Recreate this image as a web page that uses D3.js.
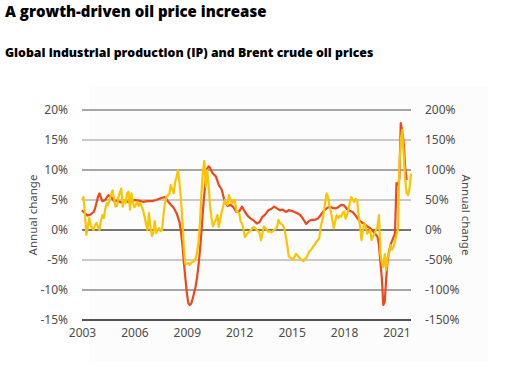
<!DOCTYPE html>
<html>
<head>
<meta charset="utf-8">
<script src="https://cdn.jsdelivr.net/npm/d3@7"></script>
<style>
    body{ margin:0; background:#fff; }
    svg{ display:block; font-family:"Noto Sans", "Open Sans", sans-serif; }
</style>
</head>
<body>
<div id="chart"></div>
<script>
// chart texts
const titleText = "A growth-driven oil price increase";
const subtitleText = "Global industrial production (IP) and Brent crude oil prices";
const axisTitle = "Annual change";

// tick labels
const leftTicks = [-15, -10, -5, 0, 5, 10, 15, 20];
const rightTicks = [-150, -100, -50, 0, 50, 100, 150, 200];
const yearTicks = [2003, 2006, 2009, 2012, 2015, 2018, 2021];

// global IP, annual change % (left axis)
const ipSeries = [
    ["2003-01", 3.3], ["2003-03", 2.8], ["2003-05", 2.4], ["2003-07", 2.6], ["2003-09", 3.0],
    ["2003-10", 3.6], ["2003-12", 5.5], ["2004-01", 6.1], ["2004-03", 4.8], ["2004-05", 5.0],
    ["2004-07", 5.8], ["2004-09", 5.5], ["2004-11", 4.8], ["2005-01", 4.9], ["2005-04", 4.6],
    ["2005-07", 4.8], ["2005-10", 4.6], ["2006-01", 5.0], ["2006-04", 4.9], ["2006-07", 4.7],
    ["2006-10", 4.8], ["2007-01", 4.8], ["2007-04", 5.0], ["2007-07", 5.3], ["2007-10", 5.5],
    ["2007-12", 4.8], ["2008-02", 4.2], ["2008-04", 3.7], ["2008-06", 2.8], ["2008-08", 1.3],
    ["2008-09", -0.3], ["2008-10", -2.5], ["2008-11", -5.5], ["2008-12", -8.0], ["2009-01", -10.5],
    ["2009-02", -12.2], ["2009-03", -12.5], ["2009-04", -12.3], ["2009-05", -11.5], ["2009-06", -10.5],
    ["2009-07", -9.5], ["2009-08", -8.0], ["2009-09", -6.0], ["2009-10", -3.5], ["2009-11", -0.5],
    ["2009-12", 3.0], ["2010-01", 6.0], ["2010-02", 8.5], ["2010-03", 10.2], ["2010-04", 10.6],
    ["2010-05", 10.4], ["2010-06", 9.8], ["2010-07", 9.4], ["2010-09", 8.9], ["2010-11", 7.5],
    ["2011-01", 6.7], ["2011-03", 4.8], ["2011-05", 4.0], ["2011-07", 4.2], ["2011-09", 3.8],
    ["2011-11", 3.0], ["2012-01", 3.1], ["2012-03", 3.9], ["2012-05", 3.0], ["2012-07", 2.3],
    ["2012-09", 1.9], ["2012-11", 1.6], ["2013-01", 1.1], ["2013-03", 1.3], ["2013-05", 2.2],
    ["2013-07", 2.6], ["2013-09", 3.3], ["2013-11", 3.5], ["2014-01", 3.9], ["2014-03", 3.6],
    ["2014-05", 3.3], ["2014-07", 3.4], ["2014-09", 3.0], ["2014-11", 3.3], ["2015-01", 3.2],
    ["2015-03", 3.0], ["2015-05", 2.8], ["2015-07", 2.5], ["2015-09", 1.8], ["2015-11", 1.0],
    ["2016-01", 1.5], ["2016-03", 1.7], ["2016-05", 1.7], ["2016-07", 1.9], ["2016-09", 2.5],
    ["2016-11", 3.2], ["2017-01", 3.6], ["2017-03", 3.9], ["2017-05", 3.7], ["2017-07", 3.6],
    ["2017-09", 3.8], ["2017-11", 4.2], ["2018-01", 4.1], ["2018-03", 3.5], ["2018-05", 3.2],
    ["2018-07", 3.0], ["2018-09", 2.4], ["2018-11", 1.7], ["2019-01", 1.3], ["2019-03", 1.0],
    ["2019-05", 0.6], ["2019-07", 0.3], ["2019-09", -0.2], ["2019-12", -1.1], ["2020-01", -2.5],
    ["2020-02", -5.5], ["2020-03", -8.0], ["2020-04", -12.5], ["2020-05", -12.0], ["2020-06", -8.0],
    ["2020-07", -5.0], ["2020-08", -3.5], ["2020-09", -2.4], ["2020-10", -1.8], ["2020-11", -1.2],
    ["2020-12", -0.6], ["2021-01", 7.8], ["2021-02", 7.5], ["2021-03", 8.5], ["2021-04", 17.8],
    ["2021-05", 16.5], ["2021-06", 14.5], ["2021-07", 10.5], ["2021-08", 8.3]
];

// Brent crude, annual change % (right axis)
const brentSeries = [
    ["2003-01", 50], ["2003-02", 55], ["2003-03", 30], ["2003-04", -8], ["2003-05", 5], ["2003-06", 20],
    ["2003-07", 8], ["2003-08", 3], ["2003-09", 0], ["2003-10", 8], ["2003-11", 12], ["2003-12", 5],
    ["2004-01", 0], ["2004-02", 15], ["2004-03", 25], ["2004-04", 20], ["2004-05", 35], ["2004-06", 45],
    ["2004-07", 42], ["2004-08", 50], ["2004-09", 60], ["2004-10", 66], ["2004-11", 52], ["2004-12", 39],
    ["2005-01", 40], ["2005-02", 55], ["2005-03", 62], ["2005-04", 69], ["2005-05", 39], ["2005-06", 50],
    ["2005-07", 45], ["2005-08", 61], ["2005-09", 64], ["2005-10", 34], ["2005-11", 61], ["2005-12", 45],
    ["2006-01", 38], ["2006-02", 42], ["2006-03", 47], ["2006-04", 40], ["2006-05", 45], ["2006-06", 39],
    ["2006-07", 33], ["2006-08", 22], ["2006-09", 10], ["2006-10", 0], ["2006-11", 28], ["2006-12", 5],
    ["2007-01", -10], ["2007-02", -5], ["2007-03", 15], ["2007-04", -5], ["2007-05", 0], ["2007-06", 3],
    ["2007-07", -2], ["2007-08", 0], ["2007-09", 25], ["2007-10", 45], ["2007-11", 55], ["2007-12", 58],
    ["2008-01", 60], ["2008-02", 75], ["2008-03", 68], ["2008-04", 61], ["2008-05", 80], ["2008-06", 89],
    ["2008-07", 100], ["2008-08", 78], ["2008-09", 50], ["2008-10", 15], ["2008-11", -33], ["2008-12", -57],
    ["2009-01", -56], ["2009-02", -55], ["2009-03", -58], ["2009-04", -55], ["2009-05", -53], ["2009-06", -52],
    ["2009-07", -48], ["2009-08", -38], ["2009-09", -20], ["2009-10", 10], ["2009-11", 60], ["2009-12", 95],
    ["2010-01", 115], ["2010-02", 72], ["2010-03", 100], ["2010-04", 75], ["2010-05", 40], ["2010-06", 20],
    ["2010-07", 6], ["2010-08", 12], ["2010-09", 17], ["2010-10", 25], ["2010-11", 5], ["2010-12", 20],
    ["2011-01", 30], ["2011-02", 40], ["2011-03", 50], ["2011-04", 45], ["2011-05", 42], ["2011-06", 58],
    ["2011-07", 50], ["2011-08", 44], ["2011-09", 48], ["2011-10", 50], ["2011-11", 31], ["2011-12", 30],
    ["2012-01", 28], ["2012-02", 14], ["2012-03", 11], ["2012-04", 0], ["2012-05", -12], ["2012-06", -8],
    ["2012-07", -5], ["2012-08", -3], ["2012-09", 0], ["2012-10", 3], ["2012-11", 5], ["2012-12", 3],
    ["2013-01", 0], ["2013-02", -2], ["2013-03", -5], ["2013-04", -17], ["2013-05", -5], ["2013-06", 6],
    ["2013-07", 3], ["2013-08", 0], ["2013-09", -3], ["2013-10", -2], ["2013-11", -4], ["2013-12", -2],
    ["2014-01", 0], ["2014-02", 2], ["2014-03", 4], ["2014-04", 17], ["2014-05", 12], ["2014-06", 10],
    ["2014-07", 8], ["2014-08", 2], ["2014-09", -11], ["2014-10", -25], ["2014-11", -44], ["2014-12", -46],
    ["2015-01", -47], ["2015-02", -50], ["2015-03", -45], ["2015-04", -40], ["2015-05", -42], ["2015-06", -45],
    ["2015-07", -48], ["2015-08", -50], ["2015-09", -52], ["2015-10", -48], ["2015-11", -47], ["2015-12", -42],
    ["2016-01", -36], ["2016-02", -34], ["2016-03", -31], ["2016-04", -27], ["2016-05", -24], ["2016-06", -20],
    ["2016-07", -17], ["2016-08", -14], ["2016-09", 6], ["2016-10", 15], ["2016-11", 28], ["2016-12", 45],
    ["2017-01", 61], ["2017-02", 55], ["2017-03", 40], ["2017-04", 31], ["2017-05", 17], ["2017-06", 3],
    ["2017-07", 15], ["2017-08", 25], ["2017-09", 20], ["2017-10", 24], ["2017-11", 22], ["2017-12", 28],
    ["2018-01", 31], ["2018-02", 19], ["2018-03", 25], ["2018-04", 33], ["2018-05", 45], ["2018-06", 55],
    ["2018-07", 50], ["2018-08", 47], ["2018-09", 52], ["2018-10", 50], ["2018-11", 25], ["2018-12", 6],
    ["2019-01", -17], ["2019-02", 0], ["2019-03", 11], ["2019-04", 5], ["2019-05", -6], ["2019-06", -3],
    ["2019-07", 0], ["2019-08", -17], ["2019-09", -10], ["2019-10", -6], ["2019-11", 0], ["2019-12", 6],
    ["2020-01", 25], ["2020-02", -39], ["2020-03", -55], ["2020-04", -62], ["2020-05", -40], ["2020-06", -67],
    ["2020-07", -45], ["2020-08", -38], ["2020-09", -25], ["2020-10", -33], ["2020-11", -28], ["2020-12", -19],
    ["2021-01", -8], ["2021-02", 0], ["2021-03", 100], ["2021-04", 150], ["2021-05", 167], ["2021-06", 125],
    ["2021-07", 85], ["2021-08", 62], ["2021-09", 58], ["2021-10", 70], ["2021-11", 94]
];

const width = 512, height = 369;
const margin = {top: 110, right: 101, bottom: 49, left: 82}; // plot box inside the svg
const parseMonth = d3.timeParse("%Y-%m");

const svg = d3.select("#chart").append("svg")
    .attr("width", width)
    .attr("height", height);

// very faint panel behind the plot
svg.append("rect")
    .attr("x", 89).attr("y", 86)
    .attr("width", 399).attr("height", 276)
    .attr("fill", "#fcfcfc");

// titles
svg.append("text")
    .attr("x", 5).attr("y", 17)
    .style("font-family", "'Open Sans', sans-serif")
    .style("font-weight", 800)
    .style("font-size", "15px")
    .attr("fill", "#000")
    .text(titleText);

svg.append("text")
    .attr("x", 5).attr("y", 57)
    .style("font-family", "'Open Sans', sans-serif")
    .style("font-weight", 800)
    .style("font-size", "12.3px")
    .attr("fill", "#000")
    .text(subtitleText);

// scales
const scaleX = d3.scaleTime()
    .domain([parseMonth("2003-01"), parseMonth("2021-11")])
    .range([margin.left, width - margin.right]);
const scaleY = d3.scaleLinear()
    .domain([d3.min(leftTicks), d3.max(leftTicks)])
    .range([height - margin.bottom, margin.top]);
const scaleY2 = d3.scaleLinear()
    .domain([d3.min(rightTicks), d3.max(rightTicks)])
    .range(scaleY.range());

// gridlines, darker every 10%
const gridColor = v => v === 0 ? "#4a4a4a" : (v % 10 === 0 ? "#8a8a8a" : "#b9b9b9");
svg.append("g")
    .selectAll("line.grid")
    .data(leftTicks.filter(v => v !== d3.min(leftTicks)))
    .join("line")
    .classed("grid", true)
    .attr("x1", margin.left).attr("x2", width - margin.right)
    .attr("y1", d => scaleY(d)).attr("y2", d => scaleY(d))
    .attr("stroke", gridColor)
    .attr("stroke-width", 1.5);

// bottom axis line
svg.append("line")
    .attr("x1", margin.left).attr("x2", width - margin.right)
    .attr("y1", scaleY(d3.min(leftTicks))).attr("y2", scaleY(d3.min(leftTicks)))
    .attr("stroke", "#1a1a1a")
    .attr("stroke-width", 1.5);

// y axes
const axisLeft = svg.append("g")
    .attr("transform", `translate(${margin.left - 11},0)`)
    .call(d3.axisLeft(scaleY).tickValues(leftTicks).tickSize(0).tickFormat(d => d + "%"));
const axisRight = svg.append("g")
    .attr("transform", `translate(${width - margin.right + 11},0)`)
    .call(d3.axisRight(scaleY2).tickValues(rightTicks).tickSize(0).tickFormat(d => d + "%"));

// x axis
const axisBottom = svg.append("g")
    .attr("transform", `translate(0,${scaleY(d3.min(leftTicks)) + 5})`)
    .call(d3.axisBottom(scaleX)
        .tickValues(yearTicks.map(y => new Date(y, 0, 1)))
        .tickSize(0)
        .tickFormat(d3.timeFormat("%Y")));

[axisLeft, axisRight, axisBottom].forEach(ax => {
    ax.select(".domain").remove();
    ax.selectAll("text")
        .style("font-family", "'Noto Sans', sans-serif")
        .style("font-size", "12px")
        .attr("fill", "#4d4d4d");
});

// axis titles
svg.append("text")
    .attr("transform", `translate(37,${scaleY(2.5)})rotate(-90)`)
    .style("text-anchor", "middle")
    .style("font-size", "11.5px")
    .attr("fill", "#4d4d4d")
    .text(axisTitle);
svg.append("text")
    .attr("transform", `translate(462,${scaleY(2.5)})rotate(90)`)
    .style("text-anchor", "middle")
    .style("font-size", "11.5px")
    .attr("fill", "#4d4d4d")
    .text(axisTitle);

// lines
const ipLine = d3.line()
    .x(d => scaleX(parseMonth(d[0])))
    .y(d => scaleY(d[1]));
const brentLine = d3.line()
    .x(d => scaleX(parseMonth(d[0])))
    .y(d => scaleY2(d[1]));

svg.append("path")
    .datum(ipSeries)
    .attr("d", ipLine)
    .attr("fill", "none")
    .attr("stroke", "#f0461a")
    .attr("stroke-width", 2.2)
    .attr("stroke-linejoin", "round");

svg.append("path")
    .datum(brentSeries)
    .attr("d", brentLine)
    .attr("fill", "none")
    .attr("stroke", "#fcc400")
    .attr("stroke-width", 2.2)
    .attr("stroke-linejoin", "round");
</script>
</body>
</html>
